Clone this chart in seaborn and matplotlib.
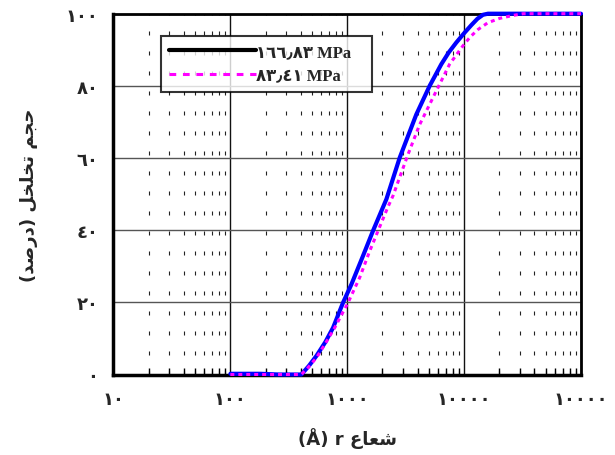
import matplotlib
matplotlib.use("Agg")
import matplotlib.pyplot as plt
import seaborn as sns
import pandas as pd
from matplotlib.lines import Line2D
from matplotlib.ticker import FixedLocator, LogLocator, NullFormatter

# ---- data ----
r_high = [100, 180, 260, 405, 470, 546, 650, 757, 920, 1086, 1365, 1660, 2163, 2811,
          3901, 5070, 6380, 7400, 8570, 10000, 11500, 13000, 14500, 16000, 100000]
v_high = [0.2, 0.2, 0, 0, 2.4, 5.2, 9.0, 13.0, 19.9, 25.0, 32.9, 39.8, 48.6, 60.1,
          72.1, 80.0, 86.0, 89.3, 92.0, 94.6, 96.8, 98.6, 99.7, 100, 100]
r_low = [100, 405, 470, 546, 650, 782, 1016, 1279, 1556, 1833, 2233, 2461, 3310, 4169,
         5600, 7510, 9770, 11300, 13120, 15960, 20100, 26000, 32000, 100000]
v_low = [0, 0, 2.2, 4.7, 8.6, 13.0, 19.9, 26.9, 34.2, 39.8, 46.5, 49.5, 61.0, 69.3,
         77.7, 86.0, 91.1, 93.6, 95.6, 97.5, 98.7, 99.5, 100, 100]

label_high = "\u0661\u0666\u0666\u066b\u0668\u0663 MPa"
label_low = "\u0668\u0663\u066b\u0664\u0661 MPa"

x_ticks = [10, 100, 1000, 10000, 100000]
x_ticklabels = ["\u0661\u0660", "\u0661\u0660\u0660", "\u0661\u0660\u0660\u0660",
                "\u0661\u0660\u0660\u0660\u0660", "\u0661\u0660\u0660\u0660\u0660"]
y_ticks = [0, 20, 40, 60, 80, 100]
y_ticklabels = ["\u0660", "\u0662\u0660", "\u0664\u0660", "\u0666\u0660",
                "\u0668\u0660", "\u0661\u0660\u0660"]

# Arabic/Persian labels in visual (shaped, left-to-right) order
# y: "حجم تخلخل (درصد)"
ylabel = ("(" + "\uFEAA\uFEBB\uFEAD\uFEA9" + ") "
          + "\uFEDE\uFEA8\uFEE0\uFEA8\uFE97" + " "
          + "\uFEE2\uFEA0\uFEA3")
# x: "شعاع r (Å)"
xlabel = "(\u00c5) r " + "\uFEC9\uFE8E\uFECC\uFEB7"

df = pd.concat([
    pd.DataFrame({"r": r_high, "v": v_high, "s": label_high}),
    pd.DataFrame({"r": r_low, "v": v_low, "s": label_low}),
])

sns.set_style("white")
plt.rcParams['font.family'] = ['DejaVu Sans']
plt.rcParams['font.weight'] = 'bold'

fig = plt.figure(figsize=(6.15, 4.56), dpi=100)
ax = fig.add_axes([113.5 / 615, 1 - 375.5 / 456, (581 - 113.5) / 615, (375.5 - 14.7) / 456])

sns.lineplot(data=df[df.s == label_high], x="r", y="v", ax=ax, color="#0000ff",
             lw=3.0, estimator=None, sort=False, clip_on=False, zorder=5, legend=False)
sns.lineplot(data=df[df.s == label_low], x="r", y="v", ax=ax, color="#ff00ff",
             lw=2.2, estimator=None, sort=False, clip_on=False, zorder=6, legend=False)
ax.lines[0].set_solid_joinstyle("round")
ax.lines[1].set_linestyle((0, (1.3, 1.3)))

ax.set_xscale("log")
ax.set_xlim(10, 100000)
ax.set_ylim(0, 100)

ax.xaxis.set_major_locator(FixedLocator(x_ticks))
ax.set_xticklabels(x_ticklabels)
ax.xaxis.set_minor_locator(LogLocator(base=10, subs=range(2, 10)))
ax.xaxis.set_minor_formatter(NullFormatter())
ax.set_yticks(y_ticks)
ax.set_yticklabels(y_ticklabels)

ax.grid(which="major", axis="y", color="#555555", lw=1.0)
ax.grid(which="major", axis="x", color="#111111", lw=1.0)
ax.grid(which="minor", axis="x", color="#222222", lw=0.8, linestyle=(0, (3.6, 14.4)))
ax.set_axisbelow(True)

ax.tick_params(axis="both", which="major", direction="inout", length=10, width=1.5,
               labelsize=13, pad=6, color="black")
ax.tick_params(axis="x", which="minor", direction="in", length=5, width=1.0,
               bottom=True, top=False, color="black")
for t in ax.get_xticklabels() + ax.get_yticklabels():
    t.set_fontweight("bold")

for side, w in [("left", 2.5), ("bottom", 2.5), ("top", 2.0), ("right", 2.0)]:
    ax.spines[side].set_visible(True)
    ax.spines[side].set_color("black")
    ax.spines[side].set_linewidth(w)

ax.set_xlabel(xlabel, fontsize=13, fontweight="bold", labelpad=14)
ax.set_ylabel(ylabel, fontsize=13, fontweight="bold", labelpad=20)

handles = [Line2D([], [], color="black", lw=3.0),
           Line2D([], [], color="#ff00ff", lw=2.2, linestyle=(0, (2.2, 2.2)))]
x0 = (161 - 113.5) / 467.5
x1 = (372 - 113.5) / 467.5
y_top = 1 - (36.5 - 14.7) / 360.8
leg = ax.legend(handles, [label_high, label_low], loc="upper left",
                bbox_to_anchor=(x0, y_top - 0.5, x1 - x0, 0.5), mode="expand",
                frameon=True, fancybox=False, shadow=False, borderaxespad=0,
                handlelength=5.2, handletextpad=0.0, borderpad=0.5, labelspacing=0.45,
                prop={"family": ["Liberation Serif", "DejaVu Sans"], "weight": "bold", "size": 12})
leg.get_frame().set_edgecolor("black")
leg.get_frame().set_linewidth(1.5)
leg.set_zorder(10)

fig.savefig("out.png", dpi=100)
